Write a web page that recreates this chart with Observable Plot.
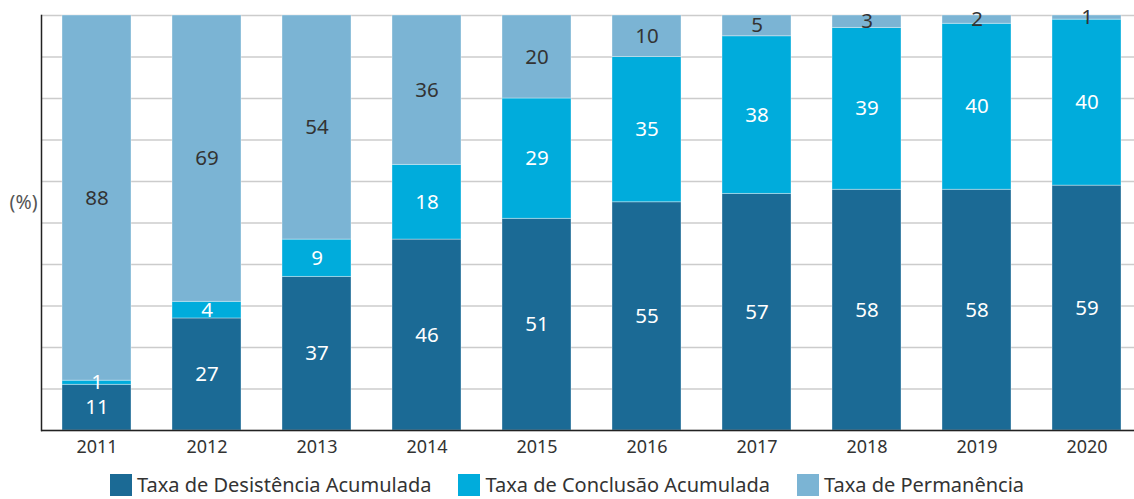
<!DOCTYPE html>
<html>
<head>
<meta charset="utf-8">
<script src="https://cdn.jsdelivr.net/npm/d3@7"></script>
<script src="https://cdn.jsdelivr.net/npm/@observablehq/plot@0.6"></script>
<style>
  body { margin: 0; background: #fff; font-family: "Noto Sans", Lato, sans-serif; }
  #legend { display: flex; justify-content: center; gap: 27px; margin-top: 11px; font-size: 20px; color: #333; }
  #legend span.item { display: flex; align-items: center; }
  #legend span.sw { width: 22px; height: 22px; display: inline-block; margin-right: 5px; }
</style>
</head>
<body>
<div id="chart"></div>
<div id="legend"></div>
<script>
const years = ["2011","2012","2013","2014","2015","2016","2017","2018","2019","2020"];
const series = ["Taxa de Desistência Acumulada","Taxa de Conclusão Acumulada","Taxa de Permanência"];
const desistencia = [11, 27, 37, 46, 51, 55, 57, 58, 58, 59];
const conclusao   = [1, 4, 9, 18, 29, 35, 38, 39, 40, 40];
const permanencia = [88, 69, 54, 36, 20, 10, 5, 3, 2, 1];
const colors = ["#1b6a95", "#00acdc", "#7bb4d4"];
const textColors = ["#ffffff", "#ffffff", "#333333"];
const yTicks = [0,10,20,30,40,50,60,70,80,90,100];

const values = [desistencia, conclusao, permanencia];
const data = [];
years.forEach((yr, i) => {
  series.forEach((s, j) => data.push({year: yr, series: s, value: values[j][i], tc: textColors[j]}));
});

const chart = Plot.plot({
  width: 1134,
  height: 460,
  marginTop: 15,
  marginBottom: 30,
  marginLeft: 41,
  marginRight: 0,
  style: {fontFamily: "'Noto Sans', Lato, sans-serif", background: "#fff"},
  x: {domain: years, paddingInner: 0.371, paddingOuter: 0.1475, align: 0.615, label: null, axis: null},
  y: {domain: [0, 100], label: null, axis: null},
  color: {domain: series, range: colors},
  marks: [
    Plot.ruleY(yTicks, {stroke: "#cccccc", strokeWidth: 1.5}),
    Plot.barY(data, Plot.stackY({x: "year", y: "value", z: "series", fill: "series", stroke: "#ffffff", strokeOpacity: 0.35, strokeWidth: 1})),
    Plot.text(data, Plot.stackY({x: "year", y: "value", z: "series", text: d => String(d.value), fill: "tc", fontSize: 20.5})),
    Plot.ruleY([0], {stroke: "#222", strokeWidth: 1.5}),
    Plot.frame({anchor: "left", stroke: "#222", strokeWidth: 1.5}),
    Plot.text(years, {x: d => d, frameAnchor: "bottom", lineAnchor: "middle", dy: 17, fontSize: 18, fill: "#333"}),
    Plot.text(["(%)"], {frameAnchor: "left", dx: -4, dy: -20, textAnchor: "end", fontSize: 19.5, fill: "#555"})
  ]
});
document.getElementById("chart").appendChild(chart);

const legend = document.getElementById("legend");
series.forEach((s, j) => {
  const item = document.createElement("span");
  item.className = "item";
  const sw = document.createElement("span");
  sw.className = "sw";
  sw.style.background = colors[j];
  item.appendChild(sw);
  item.appendChild(document.createTextNode(s));
  legend.appendChild(item);
});
</script>
</body>
</html>
